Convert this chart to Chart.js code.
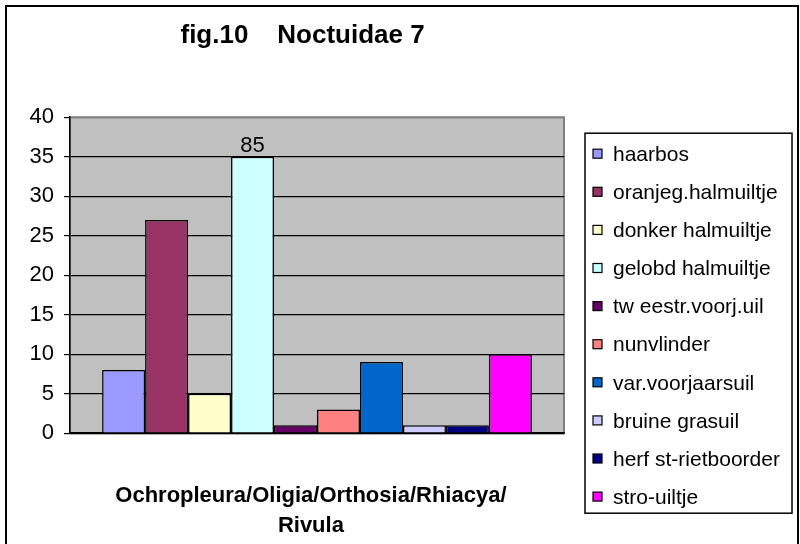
<!DOCTYPE html>
<html>
<head>
<meta charset="utf-8">
<title>fig.10 Noctuidae 7</title>
<script src="https://cdn.jsdelivr.net/npm/chart.js@4/dist/chart.umd.min.js"></script>
<style>
  html, body { margin: 0; padding: 0; background: #fff; overflow: hidden; }
  #frame { position: absolute; left: 5px; top: 5px; width: 790px; height: 600px; border: 2px solid #000; }
  #noctuidae { position: absolute; left: 0; top: 0; }
</style>
</head>
<body>
<div id="frame"></div>
<canvas id="noctuidae" width="800" height="544"></canvas>
<script>
// species shown in the chart (legend order)
const species = [
  "haarbos", "oranjeg.halmuiltje", "donker halmuiltje", "gelobd halmuiltje",
  "tw eestr.voorj.uil", "nunvlinder", "var.voorjaarsuil", "bruine grasuil",
  "herf st-rietboorder", "stro-uiltje",
];
// bar heights as drawn (gelobd halmuiltje is cut off at 35, real count 85)
const counts = [8, 27, 5, 35, 1, 3, 9, 1, 1, 10];
const barNotes = ["", "", "", "85", "", "", "", "", "", ""];
const colors = [
  "#9999FF", "#993366", "#FFFFCC", "#CCFFFF", "#660066",
  "#FF8080", "#0066CC", "#CCCCFF", "#000080", "#FF00FF",
];
const yTicks = [0, 5, 10, 15, 20, 25, 30, 35, 40];
const genusLabel = ["Ochropleura/Oligia/Orthosia/Rhiacya/  ", "Rivula  "];

const FONT = "'Liberation Sans', Arial, sans-serif";

// grey plot area with darker edge
const plotBackground = {
  id: "plotBackground",
  beforeDraw(chart) {
    const { ctx, chartArea: a } = chart;
    ctx.save();
    ctx.fillStyle = "#C0C0C0";
    ctx.fillRect(a.left, a.top, a.width, a.height);
    ctx.strokeStyle = "#808080";
    ctx.lineWidth = 2;
    ctx.strokeRect(a.left, a.top, a.width, a.height);
    ctx.restore();
  },
};

// text above bars (the "85" on the cut off bar)
const barNoteLabels = {
  id: "barNoteLabels",
  afterDatasetsDraw(chart) {
    const { ctx } = chart;
    ctx.save();
    ctx.font = "22px " + FONT;
    ctx.fillStyle = "#000";
    ctx.textAlign = "center";
    ctx.textBaseline = "alphabetic";
    barNotes.forEach((note, i) => {
      if (!note) return;
      const bar = chart.getDatasetMeta(i).data[0];
      ctx.fillText(note, bar.x, bar.y - 5);
    });
    ctx.restore();
  },
};

// boxed legend like the spreadsheet one
const boxedLegend = {
  id: "boxedLegend",
  afterDraw(chart) {
    const { ctx, chartArea: a } = chart;
    const left = a.right + 21;
    const top = a.top + 16;
    const rowGap = 38.1;
    ctx.save();
    ctx.strokeStyle = "#000";
    ctx.lineWidth = 1.5;
    ctx.fillStyle = "#fff";
    ctx.fillRect(left, top, 207, 380);
    ctx.strokeRect(left, top, 207, 380);
    ctx.font = "21px " + FONT;
    ctx.textBaseline = "middle";
    chart.data.datasets.forEach((ds, i) => {
      const y = top + 21 + i * rowGap;
      ctx.fillStyle = ds.backgroundColor;
      ctx.fillRect(left + 8, y - 5, 9, 9);
      ctx.lineWidth = 1.2;
      ctx.strokeRect(left + 8, y - 5, 9, 9);
      ctx.fillStyle = "#000";
      ctx.fillText(ds.label, left + 28, y + 1);
    });
    ctx.restore();
  },
};

new Chart(document.getElementById("noctuidae"), {
  type: "bar",
  data: {
    labels: [""],
    datasets: species.map((name, i) => ({
      label: name,
      data: [counts[i]],
      backgroundColor: colors[i],
      borderColor: "#000",
      borderWidth: 1.5,
      categoryPercentage: 0.87,
      barPercentage: 1.0,
    })),
  },
  options: {
    responsive: false,
    animation: false,
    layout: { padding: { left: 26, right: 236, top: 0, bottom: 0 } },
    plugins: {
      legend: { display: false },
      tooltip: { enabled: false },
      title: {
        display: true,
        fullSize: false,
        text: "fig.10    Noctuidae 7    ",
        color: "#000",
        font: { family: FONT, size: 26, weight: "bold", lineHeight: 1.2 },
        padding: { top: 20, bottom: 66 },
      },
    },
    scales: {
      x: {
        grid: { display: false, drawTicks: false },
        border: { display: true, color: "#000", width: 1.5 },
        ticks: { display: false },
        title: {
          display: true,
          text: genusLabel,
          color: "#000",
          font: { family: FONT, size: 22, weight: "bold", lineHeight: 1.36 },
          padding: { top: 48, bottom: 3 },
        },
      },
      y: {
        min: 0,
        max: 40,
        afterBuildTicks: (scale) => {
          scale.ticks = yTicks.map((v) => ({ value: v }));
        },
        afterFit: (scale) => {
          scale.width = 44;
        },
        grid: {
          color: (c) => (c.tick && c.tick.value === 40 ? "#808080" : "#000"),
          lineWidth: 1.2,
          tickColor: "#000",
          tickLength: 6,
        },
        border: { display: true, color: "#000", width: 1.5 },
        ticks: {
          color: "#000",
          padding: 10,
          font: { family: FONT, size: 22 },
        },
      },
    },
  },
  plugins: [plotBackground, barNoteLabels, boxedLegend],
});
</script>
</body>
</html>
